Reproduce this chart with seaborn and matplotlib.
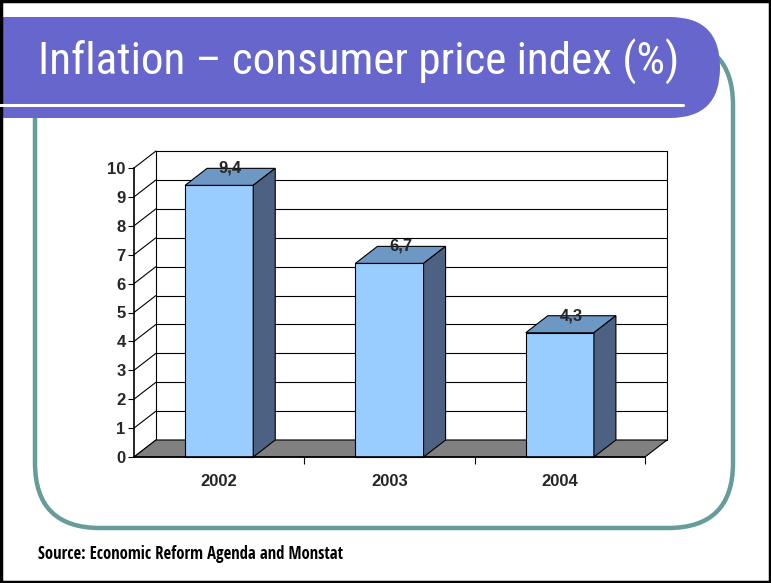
import matplotlib
matplotlib.use("Agg")
import matplotlib.pyplot as plt
import seaborn as sns
from matplotlib import font_manager
from matplotlib.font_manager import FontProperties
from matplotlib.patches import Polygon, FancyBboxPatch, Rectangle

# data
years = ["2002", "2003", "2004"]
inflation = [9.4, 6.7, 4.3]
value_labels = ["9,4", "6,7", "4,3"]
y_ticks = list(range(0, 11))

title = "Inflation – consumer price index (%)"
source = "Source: Economic Reform Agenda and Monstat"

# colours
front_col = "#99CCFF"
top_col = "#6E98C4"
side_col = "#4D6282"
floor_col = "#808080"
title_col = "#6666CC"
teal = "#669C9A"

sns.set_theme(style="white")
plt.rcParams["font.family"] = ["Liberation Sans", "DejaVu Sans"]
arial = ["Liberation Sans", "DejaVu Sans"]


# look for a narrow (condensed) face for the slide texts, like Arial Narrow
def find_narrow(bold):
    best = None
    for f in font_manager.fontManager.ttflist:
        st = str(f.stretch).lower()
        if not ("condensed" in st or "narrow" in f.name.lower() or "condensed" in f.name.lower()):
            continue
        if f.style != "normal":
            continue
        isbold = (f.weight in ("bold", 700) or (isinstance(f.weight, int) and f.weight >= 600))
        if isbold != bold:
            continue
        score = 0 if "Liberation" in f.name else (1 if "Roboto" in f.name or "Open" in f.name else 2)
        if best is None or score < best[0]:
            best = (score, f.fname)
    return best[1] if best else None


narrow_reg = find_narrow(False)
narrow_bold = find_narrow(True)

W, H = 771, 583
fig = plt.figure(figsize=(W / 100, H / 100), dpi=100)
renderer = fig.canvas.get_renderer()


def fit_text(t, target_w, max_size):
    t.set_fontsize(max_size)
    w = t.get_window_extent(renderer).width
    if w > target_w:
        t.set_fontsize(max_size * target_w / w)


# background "slide" in pixel coordinates
bg = fig.add_axes([0, 0, 1, 1], zorder=0)
bg.set_xlim(0, W)
bg.set_ylim(H, 0)
bg.axis("off")

bg.add_patch(FancyBboxPatch((35, 40), 698, 488, boxstyle="round,pad=0,rounding_size=65",
                            fc="white", ec=teal, lw=3.2))
bg.add_patch(FancyBboxPatch((-80, 17), 800, 101, boxstyle="round,pad=0,rounding_size=50",
                            fc=title_col, ec="none"))
bg.plot([0, 683], [105, 105], color="white", lw=2.2)

if narrow_reg:
    t_title = bg.text(38, 62, title, color="white", va="center", ha="left",
                      fontproperties=FontProperties(fname=narrow_reg))
    fit_text(t_title, 642, 29 * 1.35)
else:
    t_title = bg.text(38, 62, title, color="white", fontsize=29, va="center", ha="left")

if narrow_bold:
    t_src = bg.text(38, 554, source, color="black", va="center", ha="left",
                    fontproperties=FontProperties(fname=narrow_bold))
    fit_text(t_src, 305, 15)
else:
    t_src = bg.text(38, 554, source, color="black", fontweight="bold", va="center", ha="left")
    fit_text(t_src, 330, 13)

bg.add_patch(Rectangle((1, 1), W - 2, H - 2, fill=False, ec="black", lw=2.5))

# chart: front plane of the 3D box
left, right, top, bottom = 134, 645, 168, 457
ax = fig.add_axes([left / W, 1 - bottom / H, (right - left) / W, (bottom - top) / H], zorder=1)
ax.patch.set_alpha(0)

xmin, xmax, ymax = -0.5, 2.5, 10
dx = 22 / ((right - left) / 3)
dy = 17 / ((bottom - top) / ymax)

# back wall grid + box edges
lw = 0.8
for v in y_ticks:
    ax.plot([xmin + dx, xmax + dx], [v + dy, v + dy], color="black", lw=lw, zorder=1, clip_on=False)
    ax.plot([xmin, xmin + dx], [v, v + dy], color="black", lw=lw, zorder=1, clip_on=False)
ax.plot([xmin + dx, xmin + dx], [dy, ymax + dy], color="black", lw=lw, zorder=1, clip_on=False)
ax.plot([xmax + dx, xmax + dx], [dy, ymax + dy], color="black", lw=lw, zorder=1, clip_on=False)

# floor
ax.add_patch(Polygon([(xmin, 0), (xmax, 0), (xmax + dx, dy), (xmin + dx, dy)],
                     closed=True, fc=floor_col, ec="black", lw=lw, zorder=2, clip_on=False))

sns.barplot(x=years, y=inflation, color=front_col, width=0.4, edgecolor="black",
            linewidth=lw, saturation=1, ax=ax, zorder=3)

for p, lab in zip(ax.containers[0], value_labels):
    x0, w, h = p.get_x(), p.get_width(), p.get_height()
    x1 = x0 + w
    p.set_clip_on(False)
    ax.add_patch(Polygon([(x0, h), (x1, h), (x1 + dx, h + dy), (x0 + dx, h + dy)], closed=True,
                         fc=top_col, ec="black", lw=lw, zorder=4, clip_on=False))
    ax.add_patch(Polygon([(x1, 0), (x1 + dx, dy), (x1 + dx, h + dy), (x1, h)], closed=True,
                         fc=side_col, ec="black", lw=lw, zorder=4, clip_on=False))
    ax.text(x0 + w / 2 + dx / 2, h + dy, lab, ha="center", va="center", fontsize=12,
            fontweight="bold", zorder=6, family=arial)

ax.set_xlim(xmin, xmax)
ax.set_ylim(0, ymax)
ax.set_yticks(y_ticks)
ax.set_yticklabels([str(v) for v in y_ticks], fontsize=12, fontweight="bold", family=arial)
ax.set_xticks(range(len(years)))
ax.set_xticklabels(years, fontsize=12, fontweight="bold", family=arial)
ax.set_xticks([0.5, 1.5, 2.5], minor=True)
ax.tick_params(axis="x", which="major", length=0, pad=12)
ax.tick_params(axis="x", which="minor", length=5, width=0.8, color="black", direction="out", bottom=True)
ax.tick_params(axis="y", length=4, width=0.8, color="black", direction="out", left=True, pad=2)
ax.set_xlabel("")
ax.set_ylabel("")
for s in ["top", "right"]:
    ax.spines[s].set_visible(False)
for s in ["left", "bottom"]:
    ax.spines[s].set_visible(True)
    ax.spines[s].set_color("black")
    ax.spines[s].set_linewidth(1.2)
    ax.spines[s].set_zorder(5)

fig.savefig("out.png", dpi=100)
